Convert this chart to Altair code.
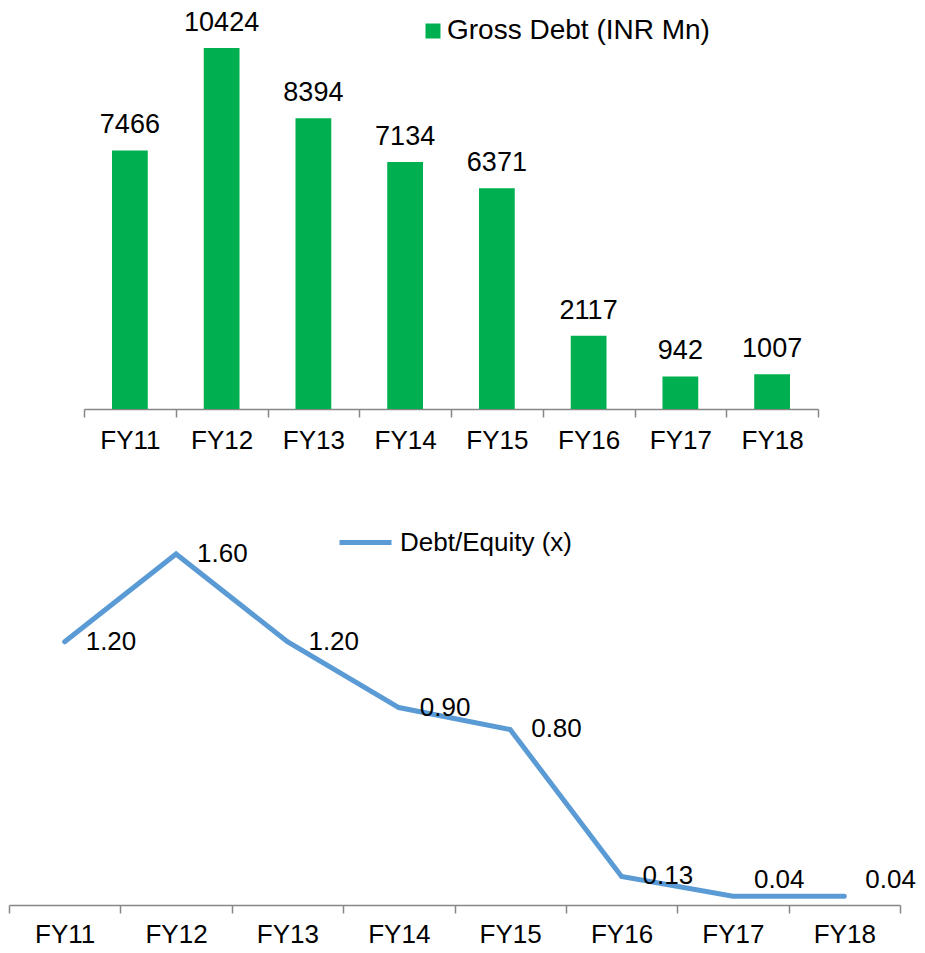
import altair as alt
import pandas as pd

years = ["FY11", "FY12", "FY13", "FY14", "FY15", "FY16", "FY17", "FY18"]
gross_debt = [7466, 10424, 8394, 7134, 6371, 2117, 942, 1007]
debt_equity = [1.20, 1.60, 1.20, 0.90, 0.80, 0.13, 0.04, 0.04]

bar_df = pd.DataFrame({"year": years, "debt": gross_debt, "series": "Gross Debt (INR Mn)"})
line_df = pd.DataFrame({"year": years, "de": debt_equity, "series": "Debt/Equity (x)"})

FONT = "Liberation Sans"
GRAY = "#868686"
GREEN = "#00B050"
BLUE = "#5B9BD5"


def axis(pad):
    return alt.Axis(
        title=None, labelAngle=0, tickBand="extent", grid=False,
        domainColor=GRAY, tickColor=GRAY, domainWidth=1.5, tickWidth=1.5, tickSize=8,
        labelFont=FONT, labelFontSize=26, labelColor="black", labelPadding=pad,
    )


# ---- top: bar chart ----
x_top = alt.X("year:N", sort=years,
              scale=alt.Scale(range=[75, 809], paddingInner=0, paddingOuter=0),
              axis=axis(10))
y_top = alt.Y("debt:Q", scale=alt.Scale(domain=[0, 11521], nice=False), axis=None)

bars = alt.Chart(bar_df).mark_bar(width=alt.RelativeBandSize(0.39)).encode(
    x=x_top, y=y_top,
    color=alt.Color("series:N", scale=alt.Scale(range=[GREEN]),
                    legend=alt.Legend(orient="none", legendX=410, legendY=7, title=None,
                                      symbolType="square", symbolSize=225, symbolStrokeWidth=0,
                                      labelFont=FONT, labelFontSize=28, labelColor="black",
                                      labelOffset=0, labelLimit=0, padding=0)),
)
bar_text = alt.Chart(bar_df).mark_text(dy=-17, baseline="alphabetic", align="center",
                                       font=FONT, fontSize=27, color="black").encode(
    x=x_top, y=y_top, text=alt.Text("debt:Q", format="d"))

top = alt.layer(bars, bar_text).properties(width=809, height=399)

# ---- bottom: line chart ----
x_bot = alt.X("year:N", sort=years,
              scale=alt.Scale(paddingInner=0, paddingOuter=0),
              axis=axis(8))
y_scale = alt.Scale(domain=[0, 1.837], nice=False)

line = alt.Chart(line_df).mark_line(strokeWidth=5, strokeCap="round", strokeJoin="miter").encode(
    x=x_bot,
    y=alt.Y("de:Q", scale=y_scale, axis=None),
    color=alt.Color("series:N", scale=alt.Scale(range=[BLUE]),
                    legend=alt.Legend(orient="none", legendX=328, legendY=12, title=None,
                                      symbolType="stroke", symbolSize=2704, symbolStrokeWidth=5,
                                      labelFont=FONT, labelFontSize=26, labelColor="black",
                                      labelOffset=6, labelLimit=0, padding=0)),
)
line_text = alt.Chart(line_df).transform_calculate(
    labely="max(datum.de, 0.115)"
).mark_text(align="left", baseline="middle", dx=21, font=FONT, fontSize=26, color="black").encode(
    x=x_bot,
    y=alt.Y("labely:Q", scale=y_scale, axis=None),
    text=alt.Text("de:Q", format=".2f"),
)

bottom = alt.layer(line, line_text).properties(width=891, height=403)

chart = alt.vconcat(top, bottom, spacing=49).resolve_scale(color="independent").properties(
    padding=0
).configure_view(stroke=None)

chart.save("out.html", embed_options={"renderer": "svg", "actions": False})
